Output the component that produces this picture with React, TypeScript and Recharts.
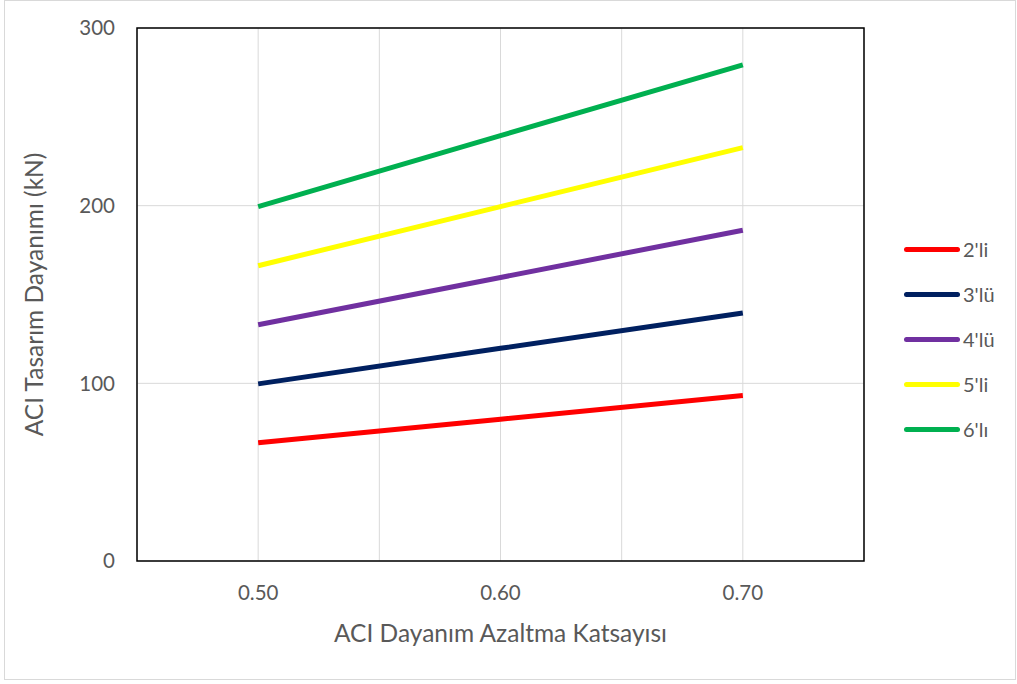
import React from "react";
import { LineChart, Line, XAxis, YAxis, CartesianGrid, ReferenceArea } from "recharts";

// Strength reduction factor (phi) values on the x axis
const phiValues = [0.5, 0.6, 0.7];

// ACI design strength (kN) per connector group
const seriesNames = ["2'li", "3'lü", "4'lü", "5'li", "6'lı"];
const seriesColors = ["#FF0000", "#002060", "#7030A0", "#FFFF00", "#00B050"];
const s2li = [66.5, 79.8, 93.1];
const s3lu = [99.7, 119.7, 139.6];
const s4lu = [133.0, 159.6, 186.2];
const s5li = [166.2, 199.5, 232.7];
const s6li = [199.5, 239.4, 279.3];
const seriesValues = [s2li, s3lu, s4lu, s5li, s6li];

const xGridTicks = [0.45, 0.5, 0.55, 0.6, 0.65, 0.7, 0.75];
const xLabelTicks = [0.5, 0.6, 0.7];
const yTicks = [0, 100, 200, 300];

const data = phiValues.map((phi, i) => {
  const row: Record<string, number> = { phi };
  seriesNames.forEach((name, k) => {
    row[name] = seriesValues[k][i];
  });
  return row;
});

const FONT = "Lato, 'Open Sans', sans-serif";
const TEXT = "#595959";

const YTitle = (props: any) => {
  const vb = props.viewBox || { y: 0, height: 0 };
  const cy = vb.y + vb.height / 2;
  const cx = 33;
  return (
    <text
      x={cx}
      y={cy}
      transform={`rotate(-90, ${cx}, ${cy})`}
      textAnchor="middle"
      dominantBaseline="central"
      fill={TEXT}
      fontSize={24.5}
      fontFamily={FONT}
    >
      ACI Tasarım Dayanımı (kN)
    </text>
  );
};

const XTitle = (props: any) => {
  const vb = props.viewBox || { x: 0, width: 0 };
  return (
    <text
      x={vb.x + vb.width / 2}
      y={632}
      textAnchor="middle"
      dominantBaseline="central"
      fill={TEXT}
      fontSize={24.5}
      fontFamily={FONT}
    >
      ACI Dayanım Azaltma Katsayısı
    </text>
  );
};

export default function App() {
  return (
    <div
      style={{
        position: "absolute",
        left: 0,
        top: 0,
        width: 1017,
        height: 684,
        background: "#fff",
        fontFamily: FONT,
      }}
    >
      <div
        style={{
          position: "absolute",
          left: 4,
          top: 0,
          width: 1012,
          height: 680,
          border: "1px solid #d9d9d9",
          boxSizing: "border-box",
        }}
      />
      <LineChart
        width={1017}
        height={684}
        data={data}
        margin={{ top: 28, right: 153, bottom: 0, left: 0 }}
        style={{ position: "absolute", left: 0, top: 0 }}
      >
        <CartesianGrid stroke="#d9d9d9" strokeWidth={1} />
        <XAxis
          dataKey="phi"
          type="number"
          domain={[0.45, 0.75]}
          ticks={xGridTicks}
          interval={0}
          height={123}
          axisLine={false}
          tickLine={false}
          tickSize={0}
          tickMargin={20}
          tick={({ x, y, payload }: any) =>
            xLabelTicks.some((t) => Math.abs(t - payload.value) < 1e-9) ? (
              <text
                x={x}
                y={y + 11}
                textAnchor="middle"
                dominantBaseline="central"
                fill={TEXT}
                fontSize={20.5}
                fontFamily={FONT}
              >
                {payload.value.toFixed(2)}
              </text>
            ) : (
              <g />
            )
          }
          label={<XTitle />}
        />
        <YAxis
          type="number"
          domain={[0, 300]}
          ticks={yTicks}
          width={137}
          axisLine={false}
          tickLine={false}
          tickSize={0}
          tickMargin={22}
          tick={{ fill: TEXT, fontSize: 20.5, fontFamily: FONT }}
          label={<YTitle />}
        />
        <ReferenceArea
          x1={0.45}
          x2={0.75}
          y1={0}
          y2={300}
          fill="none"
          stroke="#000"
          strokeWidth={1.5}
          fillOpacity={0}
          ifOverflow="visible"
        />
        {seriesNames.map((name, k) => (
          <Line
            key={name}
            dataKey={name}
            stroke={seriesColors[k]}
            strokeWidth={5}
            dot={false}
            activeDot={false}
            isAnimationActive={false}
          />
        ))}
      </LineChart>
      {/* legend */}
      <div style={{ position: "absolute", left: 904, top: 249 - 12 }}>
        {seriesNames.map((name, k) => (
          <div
            key={name}
            style={{ display: "flex", alignItems: "center", height: 24, marginBottom: 21 }}
          >
            <div
              style={{
                width: 56,
                height: 5,
                borderRadius: 3,
                background: seriesColors[k],
                marginRight: 3,
              }}
            />
            <span style={{ color: TEXT, fontSize: 20, fontFamily: FONT }}>{name}</span>
          </div>
        ))}
      </div>
    </div>
  );
}
